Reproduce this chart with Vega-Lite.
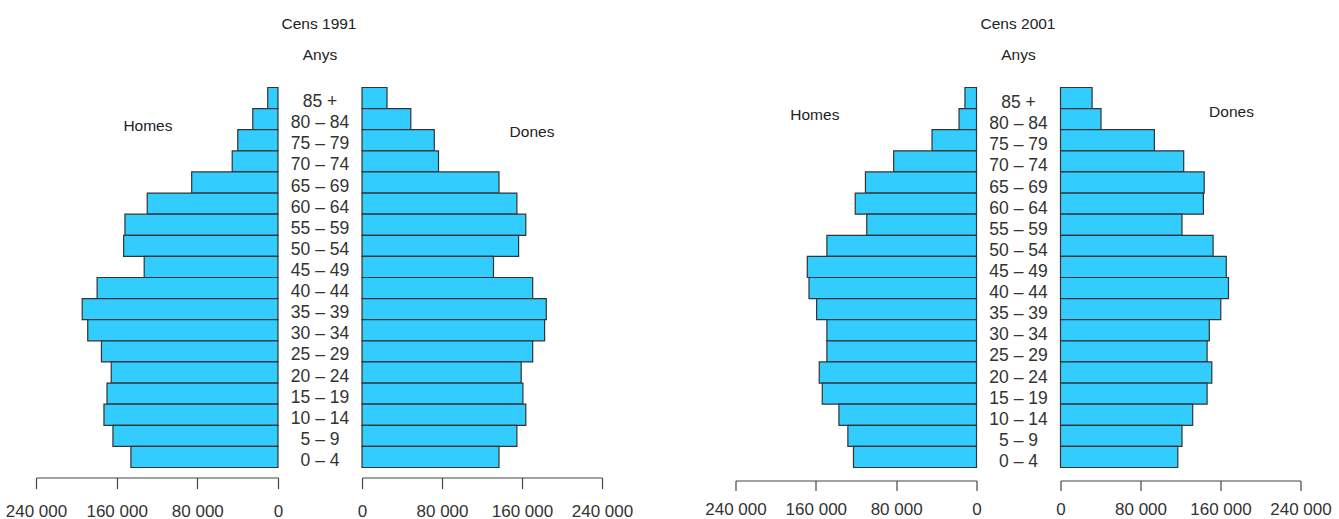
{
  "$schema": "https://vega.github.io/schema/vega-lite/v6.json",
  "background": "white",
  "padding": {"left": 5, "top": 16.5, "right": 5, "bottom": 5},
  "config": {
    "view": {"stroke": null},
    "font": "Liberation Sans",
    "title": {"font": "Liberation Sans", "fontSize": 15.5, "fontWeight": "normal", "color": "#222222"},
    "axis": {
      "labelFont": "Liberation Sans",
      "labelFontSize": 17, "labelColor": "#333333",
      "domainColor": "#444444", "tickColor": "#444444", "domainWidth": 1.2, "tickWidth": 1.2,
      "grid": false
    }
  },
  "datasets": {
    "pop": [
      {"census": "1991", "sex": "Homes", "age": "85 +", "value": 10200},
      {"census": "1991", "sex": "Homes", "age": "80 – 84", "value": 25000},
      {"census": "1991", "sex": "Homes", "age": "75 – 79", "value": 39900},
      {"census": "1991", "sex": "Homes", "age": "70 – 74", "value": 45400},
      {"census": "1991", "sex": "Homes", "age": "65 – 69", "value": 85600},
      {"census": "1991", "sex": "Homes", "age": "60 – 64", "value": 129700},
      {"census": "1991", "sex": "Homes", "age": "55 – 59", "value": 151800},
      {"census": "1991", "sex": "Homes", "age": "50 – 54", "value": 153100},
      {"census": "1991", "sex": "Homes", "age": "45 – 49", "value": 132700},
      {"census": "1991", "sex": "Homes", "age": "40 – 44", "value": 179400},
      {"census": "1991", "sex": "Homes", "age": "35 – 39", "value": 194200},
      {"census": "1991", "sex": "Homes", "age": "30 – 34", "value": 188700},
      {"census": "1991", "sex": "Homes", "age": "25 – 29", "value": 175100},
      {"census": "1991", "sex": "Homes", "age": "20 – 24", "value": 165400},
      {"census": "1991", "sex": "Homes", "age": "15 – 19", "value": 169600},
      {"census": "1991", "sex": "Homes", "age": "10 – 14", "value": 172600},
      {"census": "1991", "sex": "Homes", "age": "5 – 9", "value": 163700},
      {"census": "1991", "sex": "Homes", "age": "0 – 4", "value": 145900},
      {"census": "1991", "sex": "Dones", "age": "85 +", "value": 25000},
      {"census": "1991", "sex": "Dones", "age": "80 – 84", "value": 48800},
      {"census": "1991", "sex": "Dones", "age": "75 – 79", "value": 72300},
      {"census": "1991", "sex": "Dones", "age": "70 – 74", "value": 76500},
      {"census": "1991", "sex": "Dones", "age": "65 – 69", "value": 137000},
      {"census": "1991", "sex": "Dones", "age": "60 – 64", "value": 154900},
      {"census": "1991", "sex": "Dones", "age": "55 – 59", "value": 163800},
      {"census": "1991", "sex": "Dones", "age": "50 – 54", "value": 156600},
      {"census": "1991", "sex": "Dones", "age": "45 – 49", "value": 131500},
      {"census": "1991", "sex": "Dones", "age": "40 – 44", "value": 170700},
      {"census": "1991", "sex": "Dones", "age": "35 – 39", "value": 184300},
      {"census": "1991", "sex": "Dones", "age": "30 – 34", "value": 182600},
      {"census": "1991", "sex": "Dones", "age": "25 – 29", "value": 170700},
      {"census": "1991", "sex": "Dones", "age": "20 – 24", "value": 159200},
      {"census": "1991", "sex": "Dones", "age": "15 – 19", "value": 160900},
      {"census": "1991", "sex": "Dones", "age": "10 – 14", "value": 163800},
      {"census": "1991", "sex": "Dones", "age": "5 – 9", "value": 154900},
      {"census": "1991", "sex": "Dones", "age": "0 – 4", "value": 137000},
      {"census": "2001", "sex": "Homes", "age": "85 +", "value": 11500},
      {"census": "2001", "sex": "Homes", "age": "80 – 84", "value": 17400},
      {"census": "2001", "sex": "Homes", "age": "75 – 79", "value": 44300},
      {"census": "2001", "sex": "Homes", "age": "70 – 74", "value": 82500},
      {"census": "2001", "sex": "Homes", "age": "65 – 69", "value": 110600},
      {"census": "2001", "sex": "Homes", "age": "60 – 64", "value": 120800},
      {"census": "2001", "sex": "Homes", "age": "55 – 59", "value": 109300},
      {"census": "2001", "sex": "Homes", "age": "50 – 54", "value": 149000},
      {"census": "2001", "sex": "Homes", "age": "45 – 49", "value": 168500},
      {"census": "2001", "sex": "Homes", "age": "40 – 44", "value": 166800},
      {"census": "2001", "sex": "Homes", "age": "35 – 39", "value": 159200},
      {"census": "2001", "sex": "Homes", "age": "30 – 34", "value": 149000},
      {"census": "2001", "sex": "Homes", "age": "25 – 29", "value": 149000},
      {"census": "2001", "sex": "Homes", "age": "20 – 24", "value": 156600},
      {"census": "2001", "sex": "Homes", "age": "15 – 19", "value": 153600},
      {"census": "2001", "sex": "Homes", "age": "10 – 14", "value": 137000},
      {"census": "2001", "sex": "Homes", "age": "5 – 9", "value": 128100},
      {"census": "2001", "sex": "Homes", "age": "0 – 4", "value": 122500},
      {"census": "2001", "sex": "Dones", "age": "85 +", "value": 31600},
      {"census": "2001", "sex": "Dones", "age": "80 – 84", "value": 40500},
      {"census": "2001", "sex": "Dones", "age": "75 – 79", "value": 93900},
      {"census": "2001", "sex": "Dones", "age": "70 – 74", "value": 123200},
      {"census": "2001", "sex": "Dones", "age": "65 – 69", "value": 143700},
      {"census": "2001", "sex": "Dones", "age": "60 – 64", "value": 142900},
      {"census": "2001", "sex": "Dones", "age": "55 – 59", "value": 121500},
      {"census": "2001", "sex": "Dones", "age": "50 – 54", "value": 152600},
      {"census": "2001", "sex": "Dones", "age": "45 – 49", "value": 165800},
      {"census": "2001", "sex": "Dones", "age": "40 – 44", "value": 168000},
      {"census": "2001", "sex": "Dones", "age": "35 – 39", "value": 160300},
      {"census": "2001", "sex": "Dones", "age": "30 – 34", "value": 148800},
      {"census": "2001", "sex": "Dones", "age": "25 – 29", "value": 146600},
      {"census": "2001", "sex": "Dones", "age": "20 – 24", "value": 151300},
      {"census": "2001", "sex": "Dones", "age": "15 – 19", "value": 146600},
      {"census": "2001", "sex": "Dones", "age": "10 – 14", "value": 132200},
      {"census": "2001", "sex": "Dones", "age": "5 – 9", "value": 121500},
      {"census": "2001", "sex": "Dones", "age": "0 – 4", "value": 117300}
    ]
  },
  "hconcat": [
    {
      "title": {"text": "Cens 1991", "anchor": "middle", "offset": 15.5},
      "spacing": 0,
      "bounds": "flush",
      "hconcat": [
        {
          "width": 242, "height": 380,
          "layer": [
            {
              "data": {"name": "pop"},
              "transform": [{"filter": "datum.census == '1991' && datum.sex == 'Homes'"}],
              "mark": {"type": "bar", "fill": "#33CCFF", "stroke": "#333333", "strokeWidth": 1.2},
              "encoding": {
                "y": {"field": "age", "type": "nominal", "sort": ["85 +", "80 – 84", "75 – 79", "70 – 74", "65 – 69", "60 – 64", "55 – 59", "50 – 54", "45 – 49", "40 – 44", "35 – 39", "30 – 34", "25 – 29", "20 – 24", "15 – 19", "10 – 14", "5 – 9", "0 – 4"], "scale": {"paddingInner": 0, "paddingOuter": 0}, "axis": null},
                "x": {"field": "value", "type": "quantitative", "scale": {"domain": [0, 240000], "reverse": true, "nice": false},
                  "axis": {"title": null, "values": [0, 80000, 160000, 240000], "labelExpr": "replace(format(datum.value, ','), ',', ' ')", "offset": 10, "tickSize": 11, "labelPadding": 15, "labelFlush": false, "labelOverlap": false}}
              }
            },
            {
              "data": {"values": [{"label": "Homes"}]},
              "mark": {"type": "text", "fontSize": 15.5, "baseline": "middle", "dy": 7, "color": "#222222"},
              "encoding": {
                "x": {"datum": 129000, "type": "quantitative"},
                "y": {"datum": "80 – 84", "type": "nominal"},
                "text": {"field": "label"}
              }
            }
          ]
        },
        {
          "width": 84, "height": 380,
          "title": {"text": "Anys", "anchor": "middle", "offset": 24},
          "data": {"name": "pop"},
          "transform": [{"filter": "datum.census == '1991' && datum.sex == 'Homes'"}],
          "mark": {"type": "text", "fontSize": 17.5, "baseline": "middle", "dy": 4, "color": "#333333"},
          "encoding": {
            "y": {"field": "age", "type": "nominal", "sort": ["85 +", "80 – 84", "75 – 79", "70 – 74", "65 – 69", "60 – 64", "55 – 59", "50 – 54", "45 – 49", "40 – 44", "35 – 39", "30 – 34", "25 – 29", "20 – 24", "15 – 19", "10 – 14", "5 – 9", "0 – 4"], "scale": {"paddingInner": 0, "paddingOuter": 0}, "axis": null},
            "text": {"field": "age"}
          }
        },
        {
          "width": 240, "height": 380,
          "layer": [
            {
              "data": {"name": "pop"},
              "transform": [{"filter": "datum.census == '1991' && datum.sex == 'Dones'"}],
              "mark": {"type": "bar", "fill": "#33CCFF", "stroke": "#333333", "strokeWidth": 1.2},
              "encoding": {
                "y": {"field": "age", "type": "nominal", "sort": ["85 +", "80 – 84", "75 – 79", "70 – 74", "65 – 69", "60 – 64", "55 – 59", "50 – 54", "45 – 49", "40 – 44", "35 – 39", "30 – 34", "25 – 29", "20 – 24", "15 – 19", "10 – 14", "5 – 9", "0 – 4"], "scale": {"paddingInner": 0, "paddingOuter": 0}, "axis": null},
                "x": {"field": "value", "type": "quantitative", "scale": {"domain": [0, 240000], "nice": false},
                  "axis": {"title": null, "values": [0, 80000, 160000, 240000], "labelExpr": "replace(format(datum.value, ','), ',', ' ')", "offset": 10, "tickSize": 11, "labelPadding": 15, "labelFlush": false, "labelOverlap": false}}
              }
            },
            {
              "data": {"values": [{"label": "Dones"}]},
              "mark": {"type": "text", "fontSize": 15.5, "baseline": "middle", "dy": -8, "color": "#222222"},
              "encoding": {
                "x": {"datum": 170000, "type": "quantitative"},
                "y": {"datum": "75 – 79", "type": "nominal"},
                "text": {"field": "label"}
              }
            }
          ]
        }
      ]
    },
    {
      "title": {"text": "Cens 2001", "anchor": "middle", "offset": 15.5},
      "spacing": 0,
      "bounds": "flush",
      "hconcat": [
        {
          "width": 241, "height": 380,
          "layer": [
            {
              "data": {"name": "pop"},
              "transform": [{"filter": "datum.census == '2001' && datum.sex == 'Homes'"}],
              "mark": {"type": "bar", "fill": "#33CCFF", "stroke": "#333333", "strokeWidth": 1.2},
              "encoding": {
                "y": {"field": "age", "type": "nominal", "sort": ["85 +", "80 – 84", "75 – 79", "70 – 74", "65 – 69", "60 – 64", "55 – 59", "50 – 54", "45 – 49", "40 – 44", "35 – 39", "30 – 34", "25 – 29", "20 – 24", "15 – 19", "10 – 14", "5 – 9", "0 – 4"], "scale": {"paddingInner": 0, "paddingOuter": 0}, "axis": null},
                "x": {"field": "value", "type": "quantitative", "scale": {"domain": [0, 240000], "reverse": true, "nice": false},
                  "axis": {"title": null, "values": [0, 80000, 160000, 240000], "labelExpr": "replace(format(datum.value, ','), ',', ' ')", "offset": 13, "tickSize": 10, "labelPadding": 11, "labelFlush": false, "labelOverlap": false}}
              }
            },
            {
              "data": {"values": [{"label": "Homes"}]},
              "mark": {"type": "text", "fontSize": 15.5, "baseline": "middle", "dy": -4, "color": "#222222"},
              "encoding": {
                "x": {"datum": 161000, "type": "quantitative"},
                "y": {"datum": "80 – 84", "type": "nominal"},
                "text": {"field": "label"}
              }
            }
          ]
        },
        {
          "width": 84, "height": 380,
          "title": {"text": "Anys", "anchor": "middle", "offset": 24},
          "data": {"name": "pop"},
          "transform": [{"filter": "datum.census == '2001' && datum.sex == 'Homes'"}],
          "mark": {"type": "text", "fontSize": 17.5, "baseline": "middle", "dy": 5, "color": "#333333"},
          "encoding": {
            "y": {"field": "age", "type": "nominal", "sort": ["85 +", "80 – 84", "75 – 79", "70 – 74", "65 – 69", "60 – 64", "55 – 59", "50 – 54", "45 – 49", "40 – 44", "35 – 39", "30 – 34", "25 – 29", "20 – 24", "15 – 19", "10 – 14", "5 – 9", "0 – 4"], "scale": {"paddingInner": 0, "paddingOuter": 0}, "axis": null},
            "text": {"field": "age"}
          }
        },
        {
          "width": 240, "height": 380,
          "layer": [
            {
              "data": {"name": "pop"},
              "transform": [{"filter": "datum.census == '2001' && datum.sex == 'Dones'"}],
              "mark": {"type": "bar", "fill": "#33CCFF", "stroke": "#333333", "strokeWidth": 1.2},
              "encoding": {
                "y": {"field": "age", "type": "nominal", "sort": ["85 +", "80 – 84", "75 – 79", "70 – 74", "65 – 69", "60 – 64", "55 – 59", "50 – 54", "45 – 49", "40 – 44", "35 – 39", "30 – 34", "25 – 29", "20 – 24", "15 – 19", "10 – 14", "5 – 9", "0 – 4"], "scale": {"paddingInner": 0, "paddingOuter": 0}, "axis": null},
                "x": {"field": "value", "type": "quantitative", "scale": {"domain": [0, 240000], "nice": false},
                  "axis": {"title": null, "values": [0, 80000, 160000, 240000], "labelExpr": "replace(format(datum.value, ','), ',', ' ')", "offset": 13, "tickSize": 10, "labelPadding": 11, "labelFlush": false, "labelOverlap": false}}
              }
            },
            {
              "data": {"values": [{"label": "Dones"}]},
              "mark": {"type": "text", "fontSize": 15.5, "baseline": "middle", "dy": -7, "color": "#222222"},
              "encoding": {
                "x": {"datum": 171000, "type": "quantitative"},
                "y": {"datum": "80 – 84", "type": "nominal"},
                "text": {"field": "label"}
              }
            }
          ]
        }
      ]
    }
  ],
  "spacing": 71.5,
  "bounds": "full"
}
